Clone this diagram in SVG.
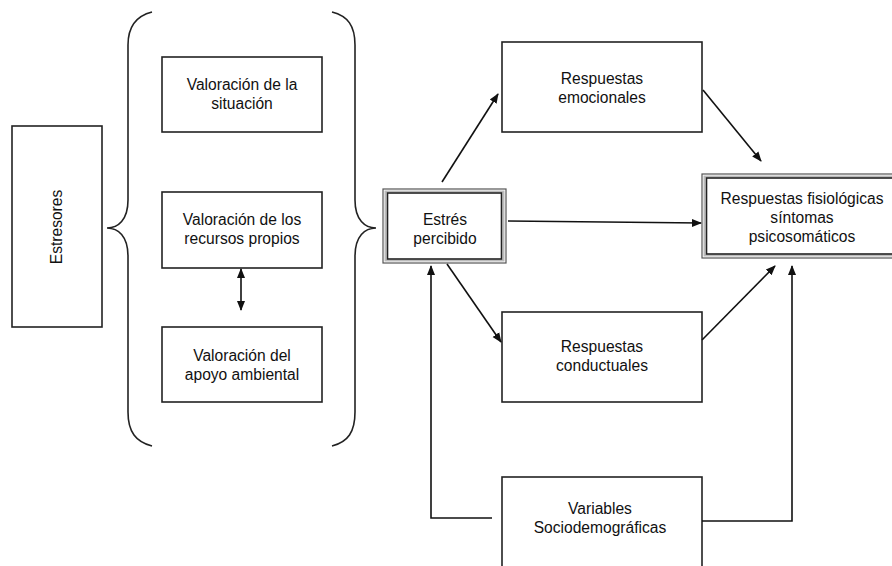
<svg xmlns="http://www.w3.org/2000/svg" width="892" height="566" viewBox="0 0 892 566">
<style>
.box{fill:#fff;stroke:#222;stroke-width:1.6}
.dbl-o{fill:#fff;stroke:#555;stroke-width:1.2}
.dbl-i{fill:#fff;stroke:#222;stroke-width:1.6}
.band{fill:none;stroke:#bbb;stroke-width:2}
.brace{fill:none;stroke:#222;stroke-width:1.6}
text{font-family:"Liberation Sans",Arial,sans-serif;font-size:15.6px;fill:#111;text-anchor:middle}
.con{fill:none;stroke:#111;stroke-width:1.6}
</style>
<defs>
<marker id="ah" viewBox="0 0 10 10" refX="9" refY="5" markerWidth="10" markerHeight="10" markerUnits="userSpaceOnUse" orient="auto-start-reverse">
<path d="M0,1 L10,5 L0,9 Z" fill="#111"/>
</marker>
</defs>
<rect width="892" height="566" fill="#fff"/>

<g id="estresores">
<rect class="box" x="12" y="126" width="90" height="201"/>
<text transform="translate(62,227) rotate(-90)">Estresores</text>
</g>

<g id="llave-izq">
<path class="brace" d="M152,12 C136,16 128,26 128,45 L128,200 C128,220 118,228 107,228 C118,228 128,236 128,256 L128,412 C128,432 136,442 152,446"/>
</g>
<g id="llave-der">
<path class="brace" d="M332,12 C348,16 355,26 355,45 L355,200 C355,220 365,228 376,228 C365,228 355,236 355,256 L355,412 C355,432 348,442 332,446"/>
</g>

<g id="valoracion-situacion">
<rect class="box" x="162" y="57" width="160" height="75"/>
<text x="242" y="90">Valoración de la</text>
<text x="242" y="109">situación</text>
</g>

<g id="valoracion-recursos">
<rect class="box" x="162" y="192" width="160" height="76"/>
<text x="242" y="225">Valoración de los</text>
<text x="242" y="244">recursos propios</text>
</g>

<g id="valoracion-apoyo">
<rect class="box" x="162" y="327" width="160" height="75"/>
<text x="242" y="361">Valoración del</text>
<text x="242" y="380">apoyo ambiental</text>
</g>

<g id="estres-percibido">
<rect class="dbl-o" x="383" y="189" width="123" height="74"/>
<rect class="band" x="385.5" y="191.5" width="118" height="69"/>
<rect class="dbl-i" x="387.5" y="193" width="114" height="66"/>
<text x="445" y="225">Estrés</text>
<text x="445" y="244">percibido</text>
</g>

<g id="respuestas-emocionales">
<rect class="box" x="502" y="42" width="200" height="90"/>
<text x="602" y="84">Respuestas</text>
<text x="602" y="103">emocionales</text>
</g>

<g id="respuestas-fisiologicas">
<rect class="dbl-o" x="702" y="174" width="200" height="84"/>
<rect class="band" x="704.5" y="176.5" width="200" height="79"/>
<rect class="dbl-i" x="706.5" y="178" width="200" height="76"/>
<text x="802" y="204">Respuestas fisiológicas</text>
<text x="802" y="223">síntomas</text>
<text x="802" y="242">psicosomáticos</text>
</g>

<g id="respuestas-conductuales">
<rect class="box" x="502" y="312" width="200" height="90"/>
<text x="602" y="352">Respuestas</text>
<text x="602" y="371">conductuales</text>
</g>

<g id="variables-sociodemograficas">
<rect class="box" x="502" y="477" width="200" height="100"/>
<text x="600" y="514">Variables</text>
<text x="600" y="533">Sociodemográficas</text>
</g>

<g id="conectores">
<line class="con" x1="241" y1="269" x2="241" y2="310" marker-start="url(#ah)" marker-end="url(#ah)"/>
<line class="con" x1="442" y1="182" x2="498" y2="94" marker-end="url(#ah)"/>
<line class="con" x1="703" y1="90" x2="761" y2="161" marker-end="url(#ah)"/>
<line class="con" x1="508" y1="221" x2="701" y2="223" marker-end="url(#ah)"/>
<line class="con" x1="447" y1="264" x2="501" y2="342" marker-end="url(#ah)"/>
<line class="con" x1="702" y1="340" x2="775" y2="266" marker-end="url(#ah)"/>
<polyline class="con" points="492,518 431,518 431,266" marker-end="url(#ah)"/>
<polyline class="con" points="702,521 792,521 792,266" marker-end="url(#ah)"/>
</g>
</svg>
